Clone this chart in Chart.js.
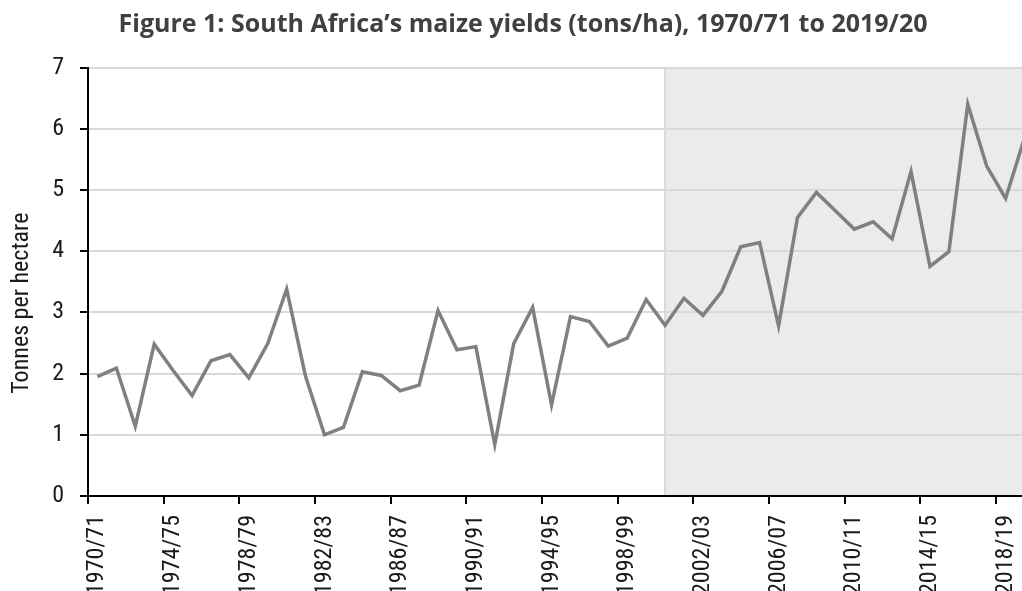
<!DOCTYPE html>
<html>
<head>
<meta charset="utf-8">
<script src="https://cdn.jsdelivr.net/npm/chart.js@4.4.1/dist/chart.umd.min.js"></script>
<style>
  html, body { margin: 0; padding: 0; background: #fff; overflow: hidden; }
  #wrap { width: 1022px; height: 591px; overflow: hidden; position: relative; }
  canvas { display: block; }
</style>
</head>
<body>
<div id="wrap"><canvas id="chart" width="1046" height="591"></canvas></div>
<script>
// seasons, 1970/71 .. 2019/20
const seasons = [
  '1970/71', '1971/72', '1972/73', '1973/74', '1974/75', '1975/76', '1976/77', '1977/78', '1978/79', '1979/80',
  '1980/81', '1981/82', '1982/83', '1983/84', '1984/85', '1985/86', '1986/87', '1987/88', '1988/89', '1989/90',
  '1990/91', '1991/92', '1992/93', '1993/94', '1994/95', '1995/96', '1996/97', '1997/98', '1998/99', '1999/00',
  '2000/01', '2001/02', '2002/03', '2003/04', '2004/05', '2005/06', '2006/07', '2007/08', '2008/09', '2009/10',
  '2010/11', '2011/12', '2012/13', '2013/14', '2014/15', '2015/16', '2016/17', '2017/18', '2018/19', '2019/20'
];

// maize yield, tonnes per hectare
const yields = [
  1.95, 2.09, 1.14, 2.48, 2.05, 1.64, 2.21, 2.31, 1.93, 2.49,
  3.38, 1.95, 1.00, 1.12, 2.03, 1.97, 1.72, 1.81, 3.03, 2.39,
  2.44, 0.84, 2.49, 3.08, 1.49, 2.93, 2.85, 2.45, 2.58, 3.21,
  2.79, 3.23, 2.95, 3.34, 4.07, 4.14, 2.78, 4.55, 4.96, 4.66,
  4.36, 4.48, 4.20, 5.30, 3.75, 3.99, 6.40, 5.39, 4.86, 5.85
];

const yTicks = [0, 1, 2, 3, 4, 5, 6, 7];
const shadeFrom = '2000/01';   // grey band from this season on
const labelEvery = 4;

const tickFont = "'Roboto Condensed', 'Liberation Sans Narrow', sans-serif";

// grey shaded period, drawn under the grid
const shadePlugin = {
  id: 'shade',
  beforeDraw(chart) {
    const { ctx, chartArea, scales } = chart;
    const x0 = scales.x.getPixelForValue(seasons.indexOf(shadeFrom));
    const yTop = scales.y.getPixelForValue(yTicks[yTicks.length - 1]);
    const yBot = scales.y.getPixelForValue(yTicks[0]);
    ctx.save();
    ctx.fillStyle = '#ebebeb';
    ctx.fillRect(x0, yTop, chartArea.right - x0, yBot - yTop);
    ctx.strokeStyle = '#d9d9d9';
    ctx.lineWidth = 2;
    ctx.beginPath();
    ctx.moveTo(x0, yTop);
    ctx.lineTo(x0, yBot);
    ctx.stroke();
    ctx.restore();
  }
};

// y axis title, sits a bit below the middle like the original
const yTitlePlugin = {
  id: 'ytitle',
  afterDraw(chart) {
    const { ctx, chartArea } = chart;
    ctx.save();
    ctx.translate(22, chartArea.top + (chartArea.bottom - chartArea.top) * 0.55);
    ctx.rotate(-Math.PI / 2);
    ctx.font = "24px " + tickFont;
    ctx.fillStyle = '#1a1a1a';
    ctx.textAlign = 'center';
    ctx.textBaseline = 'middle';
    ctx.fillText('Tonnes per hectare', 0, 0);
    ctx.restore();
  }
};

new Chart(document.getElementById('chart'), {
  type: 'line',
  data: {
    labels: seasons,
    datasets: [{
      data: yields,
      borderColor: '#808080',
      borderWidth: 3.5,
      pointRadius: 0,
      tension: 0,
      fill: false
    }]
  },
  options: {
    responsive: false,
    animation: false,
    layout: { padding: 0 },
    plugins: {
      legend: { display: false },
      tooltip: { enabled: false },
      title: {
        display: true,
        text: 'Figure 1: South Africa\u2019s maize yields (tons/ha), 1970/71 to 2019/20',
        color: '#404040',
        font: { family: "'Open Sans', sans-serif", size: 25, weight: 'bold', lineHeight: 1.2 },
        padding: { top: 10, bottom: 27.5 }
      }
    },
    scales: {
      x: {
        offset: true,
        afterFit(scale) {
          scale.height = 95;
          scale.paddingLeft = 0;
          scale.paddingRight = 12;
        },
        grid: {
          offset: true,
          drawOnChartArea: false,
          tickLength: 8,
          lineWidth: 2,
          color: (c) => (c.index % labelEvery === 0 ? '#000' : 'rgba(0,0,0,0)')
        },
        border: { display: true, color: '#000', width: 2 },
        ticks: {
          autoSkip: false,
          maxRotation: 90,
          minRotation: 90,
          padding: 11,
          color: '#1a1a1a',
          font: { family: tickFont, size: 24 },
          callback: (v, i) => (i % labelEvery === 0 ? seasons[i] : '')
        }
      },
      y: {
        min: yTicks[0],
        max: yTicks[yTicks.length - 1],
        afterFit(scale) { scale.width = 88; },
        afterBuildTicks(scale) { scale.ticks = yTicks.map(v => ({ value: v })); },
        grid: {
          color: '#d9d9d9',
          lineWidth: 2,
          tickColor: '#000',
          tickWidth: 2,
          tickLength: 8
        },
        border: { display: true, color: '#000', width: 2 },
        ticks: {
          padding: 16,
          color: '#1a1a1a',
          font: { family: tickFont, size: 24 }
        }
      }
    }
  },
  plugins: [shadePlugin, yTitlePlugin]
});
</script>
</body>
</html>
